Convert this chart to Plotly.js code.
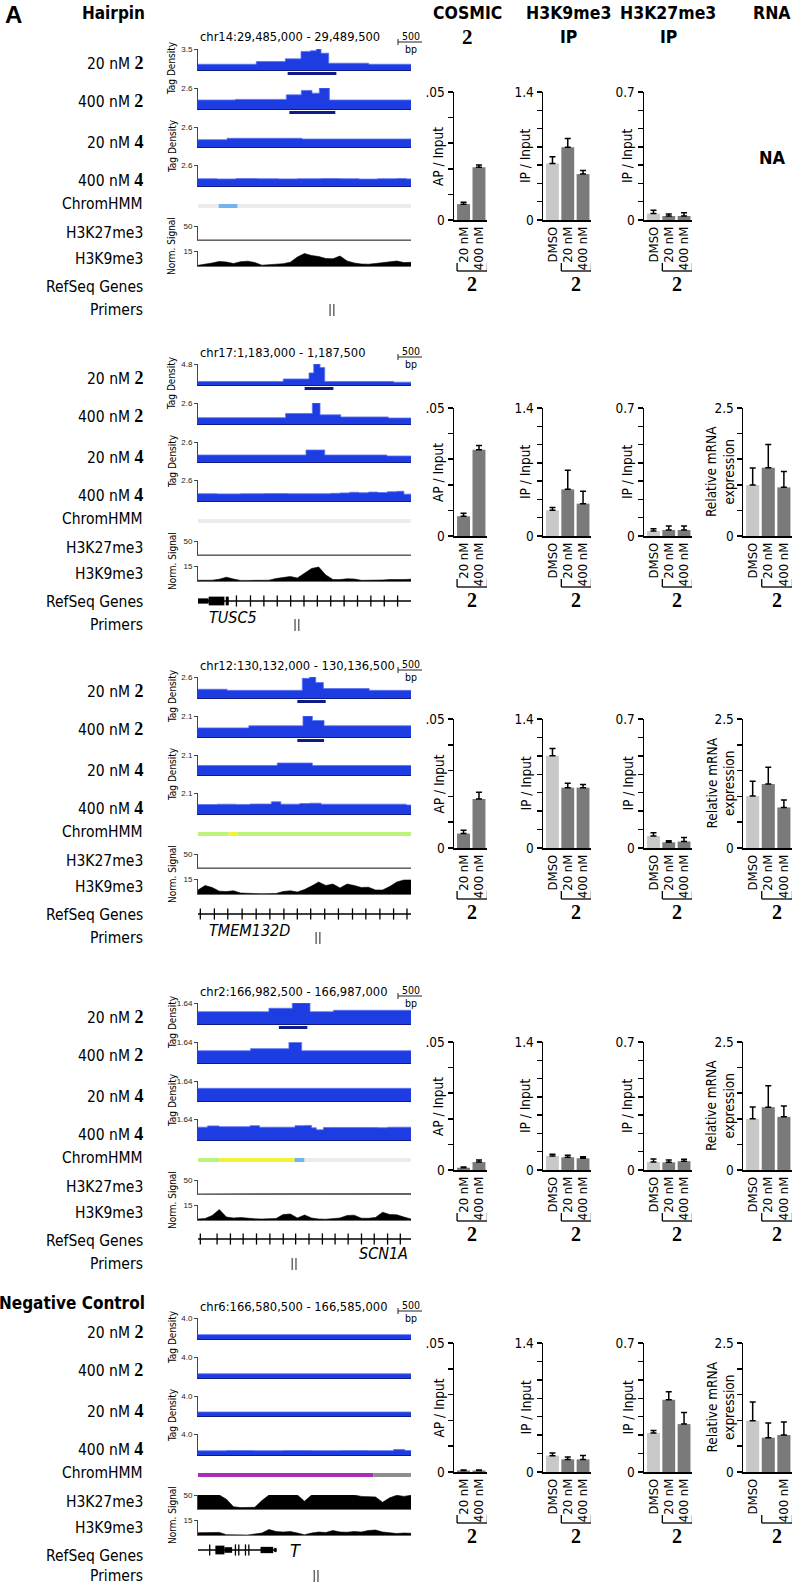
<!DOCTYPE html>
<html>
<head>
<meta charset="utf-8">
<script src="https://cdn.plot.ly/plotly-3.0.1.min.js"></script>
<style>html,body{margin:0;padding:0;background:#fff;}#chart{width:794px;height:1585px;}</style>
</head>
<body>
<div id="chart"></div>
<script>
// ================= DATA =================
const REGION_LEN = 4500;
const REGIONS = ['chr14:29,485,000 - 29,489,500', 'chr17:1,183,000 - 1,187,500', 'chr12:130,132,000 - 130,136,500', 'chr2:166,982,500 - 166,987,000', 'chr6:166,580,500 - 166,585,000'];
const GROUP_TITLES = ['Hairpin', '', '', '', 'Negative Control'];
const ROW_LABELS = ['20 nM', '400 nM', '20 nM', '400 nM', 'ChromHMM', 'H3K27me3', 'H3K9me3', 'RefSeq Genes', 'Primers'];
const ROW_COMPOUND = ['2', '2', '4', '4', '', '', '', '', ''];
const COLUMN_TITLES = ['COSMIC', 'H3K9me3', 'H3K27me3', 'RNA'];
const COLUMN_SUBTITLES = ['2', 'IP', 'IP', ''];

const TAG_MAX = [[3.5, 2.6, 2.6, 2.6], [4.8, 2.6, 2.6, 2.6], [2.6, 2.1, 2.1, 2.1], [1.64, 1.64, 1.64, 1.64], [4.0, 4.0, 4.0, 4.0]];
const TAG_MAX_TEXT = [['3.5', '2.6', '2.6', '2.6'], ['4.8', '2.6', '2.6', '2.6'], ['2.6', '2.1', '2.1', '2.1'], ['1.64', '1.64', '1.64', '1.64'], ['4.0', '4.0', '4.0', '4.0']];

// tag density step tracks (bp from region start, value)
const P1_TAG_X = [[0, 1232, 1845, 2176, 2373, 2500, 2599, 2761, 3606, 4500], [0, 789, 1866, 2183, 2408, 2563, 2775, 4500], [0, 613, 2197, 4500], [0, 400, 800, 1250, 1700, 2100, 2600, 3000, 3400, 3800, 4200, 4400, 4500]];
const P1_TAG_Y = [[0.96, 1.41, 1.86, 3.1, 3.2, 3.5, 2.8, 1.13, 0.96, 0.96], [1.11, 1.19, 1.75, 2.3, 1.96, 2.6, 1.11, 1.11], [0.95, 1.13, 1.04, 1.04], [0.9, 0.87, 0.92, 0.9, 0.88, 0.9, 0.92, 0.9, 0.86, 0.9, 0.93, 0.88, 0.88]];
const P2_TAG_X = [[0, 1801, 2345, 2445, 2578, 2677, 4132, 4500], [0, 1851, 2416, 2578, 3016, 4019, 4500], [0, 2282, 2677, 3991, 4500], [0, 400, 900, 1400, 1900, 2400, 2800, 3000, 3200, 3400, 3600, 3800, 4000, 4200, 4350, 4500]];
const P2_TAG_Y = [[0.81, 1.38, 2.77, 4.8, 4.0, 0.81, 0.65, 0.65], [0.78, 1.3, 2.6, 1.13, 0.87, 0.74, 0.74], [0.91, 1.56, 0.91, 0.78, 0.78], [0.9, 0.88, 0.9, 0.92, 0.9, 0.9, 0.95, 1.0, 1.08, 1.02, 1.1, 1.05, 1.15, 1.2, 0.85, 0.85]];
const P3_TAG_X = [[0, 615, 2204, 2359, 2487, 2649, 3617, 4500], [0, 1074, 2218, 2416, 2663, 4500], [0, 1674, 2416, 4500], [0, 400, 800, 1100, 1550, 1750, 2150, 2350, 2600, 3000, 3500, 4000, 4400, 4500]];
const P3_TAG_Y = [[1.08, 0.95, 2.43, 2.6, 1.91, 1.17, 0.95, 0.95], [0.91, 1.12, 2.1, 1.65, 1.12, 1.12], [1.0, 1.26, 1.0, 1.0], [0.95, 0.98, 0.96, 1.0, 1.22, 0.98, 1.05, 1.08, 0.98, 0.98, 0.98, 0.98, 0.9, 0.9]];
const P4_TAG_X = [[0, 1498, 1992, 2366, 2861, 4500], [0, 1109, 1921, 2190, 4500], [0, 4500], [0, 200, 450, 1100, 1300, 2050, 2250, 2400, 2500, 2650, 3600, 3800, 4000, 4500]];
const P4_TAG_Y = [[0.96, 1.23, 1.64, 0.96, 1.07, 1.07], [0.96, 1.12, 1.61, 0.96, 0.96], [1.04, 1.04], [1.0, 1.1, 1.04, 1.12, 1.0, 1.12, 1.14, 0.95, 0.8, 0.98, 0.98, 0.96, 1.0, 1.0]];
const P5_TAG_X = [[0, 4500], [0, 4500], [0, 4500], [0, 600, 1200, 1800, 2400, 3000, 3600, 4130, 4370, 4500]];
const P5_TAG_Y = [[0.83, 0.83], [0.8, 0.8], [0.8, 0.8], [0.8, 0.85, 0.82, 0.85, 0.83, 0.85, 0.83, 1.05, 0.85, 0.85]];
const TAG_X = [P1_TAG_X, P2_TAG_X, P3_TAG_X, P4_TAG_X, P5_TAG_X];
const TAG_Y = [P1_TAG_Y, P2_TAG_Y, P3_TAG_Y, P4_TAG_Y, P5_TAG_Y];

// called peaks (navy bars) under track 1 and 2
const PEAK_START = [[1894, 1930], [2253], [2098, 2098], [1709], []];
const PEAK_END = [[2923, 2901], [2861], [2698, 2663], [2310], []];

// ChromHMM segments
const CHMM_START = [[0, 437, 838], [0], [0, 650, 840], [0, 459, 2041, 2253], [0, 3709]];
const CHMM_END = [[437, 838, 4500], [4500], [650, 840, 4500], [459, 2041, 2253, 4500], [3709, 4500]];
const CHMM_COLOR = [['#ececec', '#6fb5f0', '#ececec'], ['#ececec'], ['#bdf27c', '#f2f23c', '#bdf27c'], ['#bdf27c', '#f2f23c', '#6fb5f0', '#ececec'], ['#a62fb4', '#8e8e8e']];

// histone normalized signal
const HIST_X = [0, 150, 300, 450, 600, 750, 900, 1050, 1200, 1350, 1500, 1650, 1800, 1950, 2100, 2250, 2400, 2550, 2700, 2850, 3000, 3150, 3300, 3450, 3600, 3750, 3900, 4050, 4200, 4350, 4500];
const K27_P1 = [0.3, 0.3, 0.3, 0.3, 0.3, 0.3, 0.3, 1.0, 0.3, 0.3, 0.3, 0.3, 0.3, 0.3, 0.3, 0.3, 0.3, 0.3, 0.3, 0.3, 0.3, 0.3, 0.3, 0.3, 0.3, 0.3, 0.3, 0.3, 0.3, 0.3, 0.3];
const K27_P2 = [0.3, 0.3, 0.3, 0.3, 0.3, 0.3, 1.5, 0.3, 0.3, 0.3, 0.3, 0.3, 0.3, 0.3, 0.3, 0.3, 0.3, 0.3, 0.3, 0.3, 0.3, 0.3, 0.3, 0.3, 0.3, 0.3, 0.3, 0.3, 0.3, 0.3, 0.3];
const K27_P3 = [0.3, 0.3, 0.3, 0.3, 0.3, 0.3, 0.3, 0.3, 0.3, 0.3, 0.3, 0.3, 0.3, 0.3, 0.6, 0.3, 0.3, 0.3, 0.3, 0.3, 0.3, 0.3, 0.3, 0.3, 0.3, 0.3, 0.3, 0.3, 0.3, 0.3, 0.3];
const K27_P4 = [0.3, 0.3, 0.3, 0.3, 1.5, 0.3, 0.3, 0.3, 0.3, 0.3, 0.3, 0.3, 1.8, 1.2, 0.3, 0.3, 0.3, 0.3, 0.3, 0.3, 0.3, 0.3, 0.3, 0.3, 0.3, 0.3, 0.3, 0.3, 0.3, 0.3, 1.2];
const K27_P5 = [50, 50, 50, 50, 35, 8, 5, 5, 6, 30, 50, 50, 50, 50, 50, 28, 50, 50, 50, 50, 50, 50, 50, 45, 44, 43, 24, 40, 49, 45, 49];
const K9_P1 = [0.7, 1.7, 3.0, 4.6, 4.0, 2.5, 4.3, 4.8, 3.5, 0.8, 1.5, 2.0, 2.3, 3.8, 9.0, 12.5, 10.5, 9.5, 7.5, 7.2, 10.0, 5.0, 3.0, 2.0, 1.8, 2.5, 3.3, 4.5, 5.0, 3.4, 3.7];
const K9_P2 = [0.7, 0.7, 0.8, 1.8, 3.8, 2.0, 0.6, 0.6, 0.7, 0.7, 0.8, 2.5, 3.2, 4.5, 3.0, 7.5, 12.5, 14.0, 6.0, 1.5, 1.4, 2.2, 2.0, 0.7, 0.6, 0.7, 1.0, 1.5, 1.2, 1.5, 1.8];
const K9_P3 = [4.0, 8.5, 6.5, 2.8, 2.5, 3.2, 1.0, 0.5, 0.4, 0.3, 0.3, 0.5, 2.5, 3.2, 2.0, 4.5, 8.0, 12.0, 8.5, 10.0, 6.0, 10.0, 8.5, 6.5, 6.8, 4.0, 4.0, 7.5, 12.0, 14.0, 14.0];
const K9_P4 = [1.0, 1.5, 4.5, 10.5, 3.0, 2.0, 2.5, 1.7, 1.2, 1.0, 1.0, 1.5, 5.5, 6.0, 2.0, 5.0, 2.0, 1.0, 0.8, 1.3, 2.0, 4.5, 4.8, 1.8, 1.7, 2.5, 7.8, 5.5, 5.2, 3.0, 1.0];
const K9_P5 = [2.3, 2.5, 2.0, 2.6, 0.3, 0, 0, 0, 1.0, 2.0, 5.5, 3.5, 3.0, 3.5, 2.0, 0.2, 2.0, 3.0, 2.5, 4.5, 3.0, 2.8, 3.5, 3.0, 4.5, 5.0, 3.0, 2.0, 1.5, 2.0, 1.7];
const K27_TRACKS = [K27_P1, K27_P2, K27_P3, K27_P4, K27_P5];
const K9_TRACKS = [K9_P1, K9_P2, K9_P3, K9_P4, K9_P5];
const K27_MAX = 50, K9_MAX = 15;

// RefSeq genes
const GENE_NAME = ['', 'TUSC5', 'TMEM132D', 'SCN1A', 'T'];
const GENE_START = [null, 0, 0, 0, 0];
const GENE_END = [null, 4500, 4500, 4500, 1660];
const EXON_START = [[], [0, 226, 586], [], [], [367, 558, 1321, 1610]];
const EXON_END = [[], [226, 558, 650], [], [], [558, 720, 1589, 1660]];
const EXON_H = [[], [0.75, 1.25, 1.25], [], [], [1.25, 0.8, 0.9, 0.6]];
const CHEVRON = [[], [812, 1109, 1392, 1674, 1957, 2239, 2522, 2804, 3087, 3370, 3652, 3935, 4217],
  [49, 346, 629, 932, 1229, 1519, 1815, 2098, 2381, 2677, 2967, 3264, 3546, 3843, 4132, 4415],
  [49, 403, 685, 954, 1236, 1519, 1801, 2063, 2345, 2628, 2896, 3172, 3454, 3723, 4005, 4274],
  [247, 791, 862, 1003, 1074]];
const PRIMERS = [[2790, 2870], [2050, 2130], [2495, 2575], [1990, 2070], [2455, 2535]];

// bar charts
const COND_COSMIC = ['20 nM', '400 nM'];
const COND_CHIP = ['DMSO', '20 nM', '400 nM'];
const COND_RNA_TEXT = [COND_CHIP, COND_CHIP, COND_CHIP, COND_CHIP, ['DMSO', '', '400 nM']];
const COSMIC_VAL = [[0.0062, 0.0206], [0.0077, 0.0337], [0.0056, 0.019], [0.0009, 0.0031], [0.0006, 0.0006]];
const COSMIC_ERR = [[0.0007, 0.0009], [0.0012, 0.0017], [0.0013, 0.0026], [0.0003, 0.0008], [0.0002, 0.0002]];
const K9IP_VAL = [[0.618, 0.796, 0.502], [0.281, 0.51, 0.354], [1.0, 0.655, 0.655], [0.154, 0.139, 0.128], [0.177, 0.137, 0.137]];
const K9IP_ERR = [[0.073, 0.095, 0.04], [0.03, 0.208, 0.135], [0.08, 0.047, 0.033], [0.018, 0.022, 0.018], [0.029, 0.025, 0.043]];
const K27IP_VAL = [[0.035, 0.022, 0.022], [0.027, 0.033, 0.033], [0.065, 0.031, 0.035], [0.044, 0.042, 0.048], [0.212, 0.392, 0.26]];
const K27IP_ERR = [[0.018, 0.011, 0.018], [0.013, 0.022, 0.022], [0.018, 0.009, 0.022], [0.016, 0.013, 0.011], [0.013, 0.043, 0.063]];
const RNA_VAL = [null, [0.996, 1.335, 0.95], [1.006, 1.24, 0.786], [0.999, 1.227, 1.038], [0.995, 0.665, 0.717]];
const RNA_ERR = [null, [0.33, 0.45, 0.31], [0.29, 0.325, 0.143], [0.23, 0.42, 0.21], [0.36, 0.285, 0.252]];

const COSMIC_TICKS = [0, 0.01, 0.02, 0.03, 0.04, 0.05];
const COSMIC_TICKTEXT = ['0', '', '', '', '', '.05'];
const K9IP_TICKS = [0, 0.2, 0.4, 0.6, 0.8, 1.0, 1.2, 1.4];
const K9IP_TICKTEXT = ['0', '', '', '', '', '', '', '1.4'];
const K27IP_TICKS = [0, 0.1, 0.2, 0.3, 0.4, 0.5, 0.6, 0.7];
const K27IP_TICKTEXT = ['0', '', '', '', '', '', '', '0.7'];
const RNA_TICKS = [0, 0.5, 1.0, 1.5, 2.0, 2.5];
const RNA_TICKTEXT = ['0', '', '', '', '', '2.5'];
const Y_TITLES = ['AP / Input', 'IP / Input', 'IP / Input', 'Relative mRNA<br>expression'];

// ================= LAYOUT GEOMETRY (pixels) =================
const W = 794, H = 1585;
const X = v => v / W, Y = v => 1 - v / H;
const NARROW = "'DejaVu Sans Condensed', 'Liberation Sans', Arial, sans-serif";
const SANS = "'Liberation Sans', Arial, sans-serif";
const SERIF = "'Liberation Serif', 'Times New Roman', serif";

const PANEL_OFF = [0, 315, 628, 954, 1269];
const TAG_ROWS = [[49, 70], [88, 109], [127, 147], [165, 186]];
const CHMM_ROW = [204, 208], K27_ROW = [226, 240], K9_ROW = [251, 266];
const GENE_Y = [287, 601, 914, 1239, 1550];
const PRIMER_Y = 310;
const LABEL_Y = [63, 101, 142, 180, 204, 233, 259, 287, 310];
const TRACK_X = [198, 411];
const BAR_TOP = [92, 408, 719, 1042, 1343];
const BAR_ZERO = [220, 536, 848, 1170, 1472];
const BAR_XD = [[454, 487], [543, 591], [644, 692], [743, 792]];
const YTITLE_X = [438, 525, 627, 720];
const HEAD_X = [467, 568, 668, 772];

const BLUE = '#1d3ce2', BLUE_EDGE = '#5a74f2', NAVY = '#101a86';
const C_DMSO = '#c8c8c8', C_DRUG = '#7a7a7a';

const layout = {
  width: W, height: H, margin: {l: 0, r: 0, t: 0, b: 0},
  paper_bgcolor: '#ffffff', plot_bgcolor: 'rgba(0,0,0,0)', showlegend: false,
  annotations: [], shapes: [], bargap: 0.16
};
const data = [];
let nAx = 0;
function axes(x0, x1, y0, y1, xo, yo) {
  nAx++;
  const s = nAx === 1 ? '' : String(nAx);
  layout['xaxis' + s] = Object.assign({domain: [X(x0), X(x1)], anchor: 'y' + s, fixedrange: true, showgrid: false, zeroline: false}, xo);
  layout['yaxis' + s] = Object.assign({domain: [Y(y1), Y(y0)], anchor: 'x' + s, fixedrange: true, showgrid: false, zeroline: false}, yo);
  return {x: 'x' + s, y: 'y' + s};
}
function note(x, y, text, o) {
  o = o || {};
  layout.annotations.push({
    xref: o.xref || 'paper', yref: 'paper', x: o.xref ? x : X(x), y: Y(y), text: text,
    showarrow: false, textangle: o.angle || 0, xanchor: o.xa || 'center', yanchor: o.ya || 'middle',
    align: 'center', font: {family: o.family || NARROW, size: o.size || 14, color: o.color || '#000'}
  });
}
function pline(x0, y0, x1, y1, w, c, xref) {
  layout.shapes.push({type: 'line', xref: xref || 'paper', yref: 'paper',
    x0: xref ? x0 : X(x0), x1: xref ? x1 : X(x1), y0: Y(y0), y1: Y(y1), line: {color: c || '#000', width: w || 1}});
}
const trackX = {range: [0, REGION_LEN], showticklabels: false, ticks: ''};
function trackY(max, txt) {
  return {range: [0, max], showline: true, linecolor: '#444', linewidth: 1, ticks: 'outside', ticklen: 3, tickwidth: 1,
    tickcolor: '#444', tickvals: [max], ticktext: [txt], tickfont: {size: 8, family: SANS, color: '#222'}};
}
const serifBold = t => '<b><span style="font-family:\'Liberation Serif\', serif;font-size:18px">' + t + '</span></b>';

// ---- headers ----
note(3, 14, '<b>A</b>', {xa: 'left', size: 24, family: SANS});
COLUMN_TITLES.forEach((t, i) => {
  note(HEAD_X[i], 13, '<b>' + t + '</b>', {size: 17.5});
  if (COLUMN_SUBTITLES[i]) {
    if (i === 0) note(HEAD_X[i], 37, '<b>' + COLUMN_SUBTITLES[i] + '</b>', {size: 21, family: SERIF});
    else note(HEAD_X[i], 37, '<b>' + COLUMN_SUBTITLES[i] + '</b>', {size: 17.5});
  }
});

// ---- panels ----
for (let p = 0; p < 5; p++) {
  const off = PANEL_OFF[p];
  if (GROUP_TITLES[p]) note(147, (p === 0 ? 13 : 1303), '<b>' + GROUP_TITLES[p] + '</b>', {xa: 'right', size: 17});
  ROW_LABELS.forEach((lab, i) => {
    const t = ROW_COMPOUND[i] ? lab + ' ' + serifBold(ROW_COMPOUND[i]) : lab;
    const ly = LABEL_Y[i] + off - (p === 4 && i === 8 ? 3 : 0);
    note(145, ly, t, {xa: 'right', size: 15.5});
  });
  // region label + scale bar
  note(198, 37 + off, REGIONS[p], {xa: 'left', size: 12.8});
  note(411, 36 + off, '500', {size: 10.5});
  pline(398, 42 + off, 422, 42 + off, 1, '#222');
  pline(398, 39 + off, 398, 45 + off, 1, '#222');
  note(411, 49 + off, 'bp', {size: 10.5});
  note(172, 68 + off, 'Tag Density', {angle: -90, size: 10});
  note(172, 146 + off, 'Tag Density', {angle: -90, size: 10});
  note(172, 246 + off, 'Norm. Signal', {angle: -90, size: 10});

  // tag density tracks
  for (let t = 0; t < 4; t++) {
    const r = TAG_ROWS[t];
    const ax = axes(TRACK_X[0], TRACK_X[1], r[0] + off, r[1] + off,
      Object.assign({showline: true, linecolor: NAVY, linewidth: 1.2}, trackX), trackY(TAG_MAX[p][t], TAG_MAX_TEXT[p][t]));
    data.push({type: 'scatter', mode: 'lines', x: TAG_X[p][t], y: TAG_Y[p][t], xaxis: ax.x, yaxis: ax.y,
      line: {shape: 'hv', color: BLUE_EDGE, width: 0.8}, fill: 'tozeroy', fillcolor: BLUE, hoverinfo: 'skip'});
    if (t < PEAK_START[p].length) {
      layout.shapes.push({type: 'line', xref: ax.x, yref: 'paper', x0: PEAK_START[p][t], x1: PEAK_END[p][t],
        y0: Y(r[1] + off + 3.5), y1: Y(r[1] + off + 3.5), line: {color: NAVY, width: 3}});
    }
  }
  // ChromHMM
  {
    const ax = axes(TRACK_X[0], TRACK_X[1], CHMM_ROW[0] + off, CHMM_ROW[1] + off, trackX, {range: [-0.5, 0.5], showticklabels: false, ticks: ''});
    data.push({type: 'bar', orientation: 'h', base: CHMM_START[p], x: CHMM_END[p].map((e, i) => e - CHMM_START[p][i]),
      y: CHMM_START[p].map(() => 0), width: 1, marker: {color: CHMM_COLOR[p], line: {width: 0}}, xaxis: ax.x, yaxis: ax.y, hoverinfo: 'skip'});
  }
  // histone tracks
  [[K27_ROW, K27_TRACKS[p], K27_MAX, '50'], [K9_ROW, K9_TRACKS[p], K9_MAX, '15']].forEach(h => {
    const ax = axes(TRACK_X[0], TRACK_X[1], h[0][0] + off, h[0][1] + off,
      Object.assign({showline: true, linecolor: '#666', linewidth: 1}, trackX), trackY(h[2], h[3]));
    data.push({type: 'scatter', mode: 'lines', x: HIST_X, y: h[1], xaxis: ax.x, yaxis: ax.y,
      line: {color: '#000', width: 0.6}, fill: 'tozeroy', fillcolor: '#000', hoverinfo: 'skip'});
  });
  // gene
  if (GENE_NAME[p]) {
    const gy = GENE_Y[p];
    const ax = axes(TRACK_X[0], TRACK_X[1], gy - 7, gy + 7, trackX, {range: [-1, 1], showticklabels: false, ticks: ''});
    data.push({type: 'scatter', mode: 'lines', x: [GENE_START[p], GENE_END[p]], y: [0, 0], xaxis: ax.x, yaxis: ax.y,
      line: {color: '#000', width: 1.6}, hoverinfo: 'skip'});
    data.push({type: 'scatter', mode: 'markers', x: CHEVRON[p], y: CHEVRON[p].map(() => 0), xaxis: ax.x, yaxis: ax.y,
      marker: {symbol: 'line-ns', size: 8, line: {color: '#000', width: 1.3}}, hoverinfo: 'skip'});
    if (EXON_START[p].length) {
      data.push({type: 'bar', orientation: 'h', base: EXON_START[p], x: EXON_END[p].map((e, i) => e - EXON_START[p][i]),
        y: EXON_START[p].map(() => 0), width: EXON_H[p], marker: {color: '#000', line: {width: 0}}, xaxis: ax.x, yaxis: ax.y, hoverinfo: 'skip'});
    }
    if (p === 1 || p === 2) note(207, gy + 16, '<i>' + GENE_NAME[p] + '</i>', {xa: 'left', size: 16});
    else if (p === 3) note(410, gy + 14, '<i>' + GENE_NAME[p] + '</i>', {xa: 'right', size: 16});
    else note(295, gy, '<i>' + GENE_NAME[p] + '</i>', {size: 18});
  }
  // primers
  {
    const py0 = PRIMER_Y + off + (p === 4 ? -3 : 0);
    const ax = axes(TRACK_X[0], TRACK_X[1], py0 - 6, py0 + 6, trackX, {range: [-1, 1], showticklabels: false, ticks: ''});
    data.push({type: 'scatter', mode: 'markers', x: PRIMERS[p], y: PRIMERS[p].map(() => 0), xaxis: ax.x, yaxis: ax.y,
      marker: {symbol: 'line-ns', size: 9, line: {color: '#333', width: 1.1}}, hoverinfo: 'skip'});
  }

  // ---- bar charts ----
  const sets = [
    {cats: COND_COSMIC, text: COND_COSMIC, val: COSMIC_VAL[p], err: COSMIC_ERR[p], max: 0.05, tv: COSMIC_TICKS, tt: COSMIC_TICKTEXT},
    {cats: COND_CHIP, text: COND_CHIP, val: K9IP_VAL[p], err: K9IP_ERR[p], max: 1.4, tv: K9IP_TICKS, tt: K9IP_TICKTEXT},
    {cats: COND_CHIP, text: COND_CHIP, val: K27IP_VAL[p], err: K27IP_ERR[p], max: 0.7, tv: K27IP_TICKS, tt: K27IP_TICKTEXT},
    {cats: COND_CHIP, text: COND_RNA_TEXT[p], val: RNA_VAL[p], err: RNA_ERR[p], max: 2.5, tv: RNA_TICKS, tt: RNA_TICKTEXT}
  ];
  const top = BAR_TOP[p], zero = BAR_ZERO[p];
  sets.forEach((s, a) => {
    if (!s.val) {
      note(HEAD_X[a], 158, '<b>NA</b>', {size: 18});
      return;
    }
    const ax = axes(BAR_XD[a][0], BAR_XD[a][1], top, zero,
      {type: 'category', categoryorder: 'array', categoryarray: s.cats, range: [-0.62, s.cats.length - 1 + 0.52],
        showline: true, linecolor: '#000', linewidth: 1.5, ticks: '', tickangle: -90,
        tickvals: s.cats, ticktext: s.text, tickfont: {size: 13, family: NARROW, color: '#000'}},
      {range: [0, s.max], showline: true, linecolor: '#000', linewidth: 1.5, ticks: 'outside', ticklen: 5, tickwidth: 1.5,
        tickcolor: '#000', tickvals: s.tv, ticktext: s.tt, tickfont: {size: 13.5, family: NARROW, color: '#000'}});
    data.push({type: 'bar', x: s.cats, y: s.val, xaxis: ax.x, yaxis: ax.y, width: 0.84,
      marker: {color: s.cats.map(c => c === 'DMSO' ? C_DMSO : C_DRUG), line: {width: 0}},
      error_y: {type: 'data', symmetric: false, array: s.err, arrayminus: s.err.map(() => 0), color: '#000', thickness: 1.5, width: 3},
      hoverinfo: 'skip'});
    note(YTITLE_X[a], (top + zero) / 2, Y_TITLES[a], {angle: -90, size: 13.5});
    // bracket under compound 2 conditions
    const first = s.cats.indexOf('20 nM'), last = s.cats.length - 1;
    const bx0 = first - 0.42, bx1 = last + 0.55;
    pline(bx0, zero + 43, bx0, zero + 51, 1.3, '#000', ax.x);
    pline(bx0, zero + 51, bx1, zero + 51, 1.3, '#000', ax.x);
    pline(bx1, zero + 43, bx1, zero + 51, 1.3, '#000', ax.x);
    note((bx0 + bx1) / 2, zero + 64, '<b>2</b>', {xref: ax.x, size: 20, family: SERIF});
  });
}

Plotly.newPlot('chart', data, layout, {staticPlot: true, displayModeBar: false});
</script>
</body>
</html>
